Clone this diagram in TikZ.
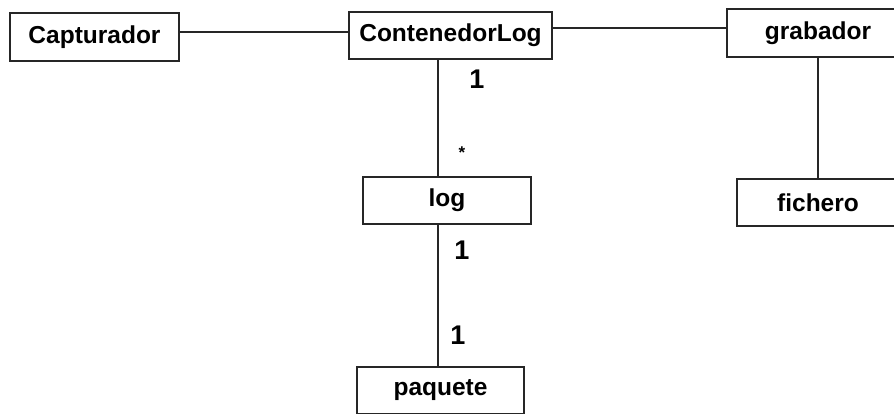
\documentclass[tikz,border=0pt]{standalone}
\usepackage{fontspec}
\setmainfont{Liberation Sans}
\begin{document}
\begin{tikzpicture}[x=1pt,y=-1pt,
  cls/.style={draw=black!85,line width=1.6pt,fill=white,rectangle,inner sep=0pt,
    font=\fontsize{24.5}{29}\selectfont\bfseries,text=black},
  mult/.style={inner sep=0pt,font=\fontsize{27}{31}\selectfont\bfseries},
  star/.style={inner sep=0pt,font=\fontsize{17}{20}\selectfont\bfseries},
  link/.style={draw=black!85,line width=1.6pt}]
\useasboundingbox (0,0) rectangle (894,413);
\clip (0,0) rectangle (894,413);
\fill[white] (0,0) rectangle (894,413);
\node[cls,minimum width=169pt,minimum height=48pt] (cap) at (94.5,37) {Capturador};
\node[cls,minimum width=203pt,minimum height=47pt] (cont) at (450.5,35.5) {ContenedorLog};
\node[cls,minimum width=182pt,minimum height=48pt] (grab) at (818,33) {grabador};
\node[cls,minimum width=168pt,minimum height=47pt] (log) at (447,200.5) {log};
\node[cls,minimum width=162pt,minimum height=47pt] (fich) at (818,202.5) {fichero};
\node[cls,minimum width=167pt,minimum height=47pt] (paq) at (440.5,390.5) {paquete};
\draw[link] ([yshift=5pt]cap.east) coordinate (h1) -- (h1 -| cont.west);
\draw[link] ([yshift=7.5pt]cont.east) coordinate (h2) -- (h2 -| grab.west);
\draw[link] ([xshift=-12.5pt]cont.south) coordinate (v1) -- (v1 |- log.north);
\draw[link] ([xshift=-2.5pt]paq.north) coordinate (v2) -- (v2 |- log.south);
\draw[link] (grab.south) -- (fich.north);
\node[mult] (m1) at (477,79.5) {1};
\node[star] (s1) at (462,153) {*};
\node[mult] (m2) at (462,250) {1};
\node[mult] (m3) at (458,335) {1};
\end{tikzpicture}
\end{document}
